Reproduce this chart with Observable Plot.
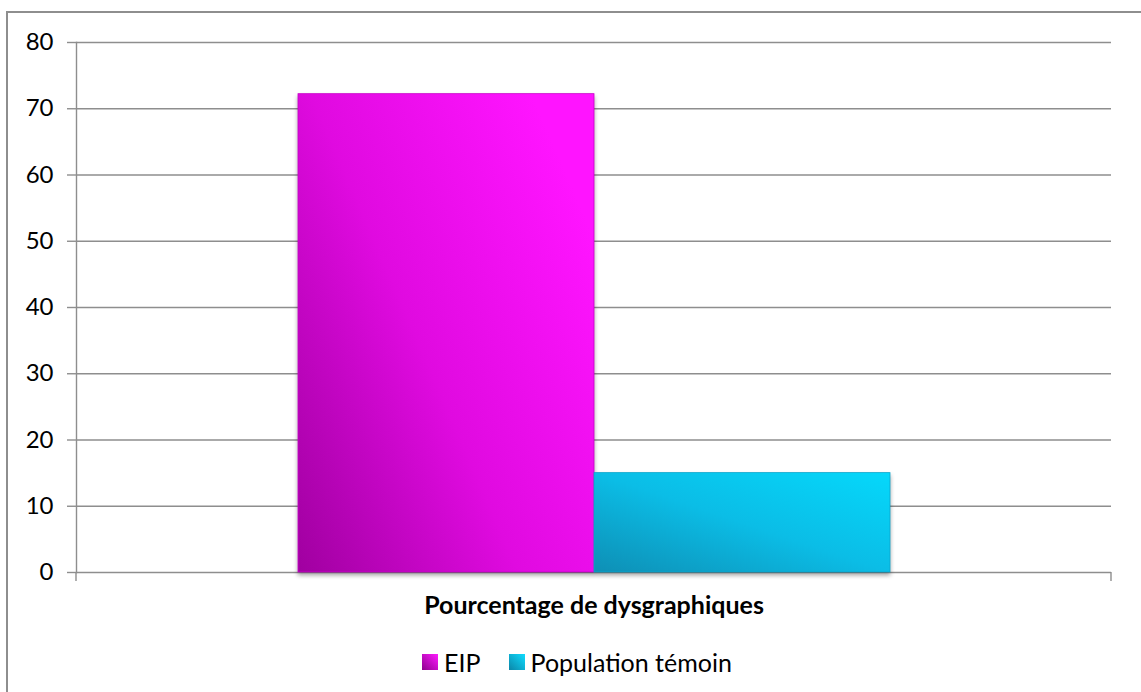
<!DOCTYPE html>
<html>
<head>
<meta charset="utf-8">
<script src="https://cdn.jsdelivr.net/npm/d3@7"></script>
<script src="https://cdn.jsdelivr.net/npm/@observablehq/plot@0.6"></script>
<style>
  html, body { margin: 0; padding: 0; background: #fff; }
  #wrap { position: relative; width: 1141px; height: 692px; overflow: hidden; font-family: Lato, "Open Sans", sans-serif; }
  #frame { position: absolute; left: 6px; top: 11px; width: 1300px; height: 900px; border-top: 2px solid #8e8e8e; border-left: 2px solid #8e8e8e; box-sizing: border-box; }
  #chart { position: absolute; left: 0; top: 0; }
  #legend { position: absolute; left: 0; width: 1154px; top: 645px; text-align: center; font-size: 25px; line-height: 30px; color: #000; white-space: nowrap; }
  .item { display: inline-flex; align-items: center; margin: 0 14px; }
  .sw { width: 16px; height: 16px; margin-right: 6px; display: inline-block; }
</style>
</head>
<body>
<div id="wrap">
  <div id="frame"></div>
  <div id="chart"></div>
  <div id="legend"></div>
</div>
<script>
const categories = ["Pourcentage de dysgraphiques"];
const series = ["EIP", "Population témoin"];
const values = [72.2, 15];
const yTicks = [0, 10, 20, 30, 40, 50, 60, 70, 80];
const seriesFills = ["url(#gEIP)", "url(#gPop)"];
const legendGradients = [
  "linear-gradient(45deg, #8e008e, #ff1aff)",
  "linear-gradient(45deg, #0b86a8, #10dcff)"
];

const data = series.map((s, i) => ({ category: categories[0], series: s, value: values[i], fill: seriesFills[i] }));

const grid = "#8e8e8e";
const chart = Plot.plot({
  width: 1141,
  height: 640,
  marginLeft: 76,
  marginRight: 30,
  marginTop: 42,
  marginBottom: 68,
  style: { fontFamily: "Lato, 'Open Sans', sans-serif", fontSize: "24px", color: "#000", background: "transparent", overflow: "visible" },
  fx: { domain: categories, padding: 0 },
  x: { domain: series, paddingOuter: 0.745, paddingInner: 0, axis: null },
  y: { domain: [0, 80], axis: null },
  color: { type: "identity" },
  marks: [
    Plot.gridY(yTicks, { stroke: grid, strokeOpacity: 1, strokeWidth: 1.4 }),
    Plot.axisY(yTicks, { tickSize: 9, tickPadding: 14, stroke: grid, strokeWidth: 1.4, fontSize: 24, label: null }),
    Plot.frame({ anchor: "left", stroke: grid, strokeWidth: 1.4 }),
    Plot.barY(data, { fx: "category", x: "series", y: "value", fill: "fill", stroke: d => d.series === "EIP" ? "#c800c8" : "#0aa6cc", strokeWidth: 0.8 }),
    Plot.axisFx({ anchor: "bottom", tickSize: 0, tickPadding: 24, fontWeight: "bold", fontSize: 25, label: null })
  ]
});

const svg = d3.select(chart);
const defs = svg.insert("defs", ":first-child");
const g1 = defs.append("linearGradient").attr("id", "gEIP").attr("x1", "0").attr("y1", "1").attr("x2", "1").attr("y2", "0.3");
g1.append("stop").attr("offset", "0").attr("stop-color", "#a000a0");
g1.append("stop").attr("offset", "0.5").attr("stop-color", "#e00ae0");
g1.append("stop").attr("offset", "1").attr("stop-color", "#ff14ff");
const g2 = defs.append("linearGradient").attr("id", "gPop").attr("x1", "0").attr("y1", "1").attr("x2", "1").attr("y2", "0");
g2.append("stop").attr("offset", "0").attr("stop-color", "#0e8fb5");
g2.append("stop").attr("offset", "0.5").attr("stop-color", "#0bbde6");
g2.append("stop").attr("offset", "1").attr("stop-color", "#05d8fb");

svg.selectAll("g[aria-label='bar']").style("filter", "drop-shadow(0px 3px 2px rgba(0,0,0,0.35))");

// end ticks of the category axis at the band edges
const fx = chart.scale("fx");
const y = chart.scale("y");
const x0 = fx.range ? fx.range[0] : 76;
const x1 = fx.range ? fx.range[1] : 1111;
const y0 = y.apply(0);
svg.append("g").attr("stroke", grid).attr("stroke-width", 1.4)
  .selectAll("line").data([x0, x1]).join("line")
  .attr("x1", d => d).attr("x2", d => d).attr("y1", y0).attr("y2", y0 + 9);

document.getElementById("chart").appendChild(chart);

const legend = document.getElementById("legend");
series.forEach((s, i) => {
  const item = document.createElement("span");
  item.className = "item";
  const sw = document.createElement("span");
  sw.className = "sw";
  sw.style.background = legendGradients[i];
  item.appendChild(sw);
  item.appendChild(document.createTextNode(s));
  legend.appendChild(item);
});
</script>
</body>
</html>
